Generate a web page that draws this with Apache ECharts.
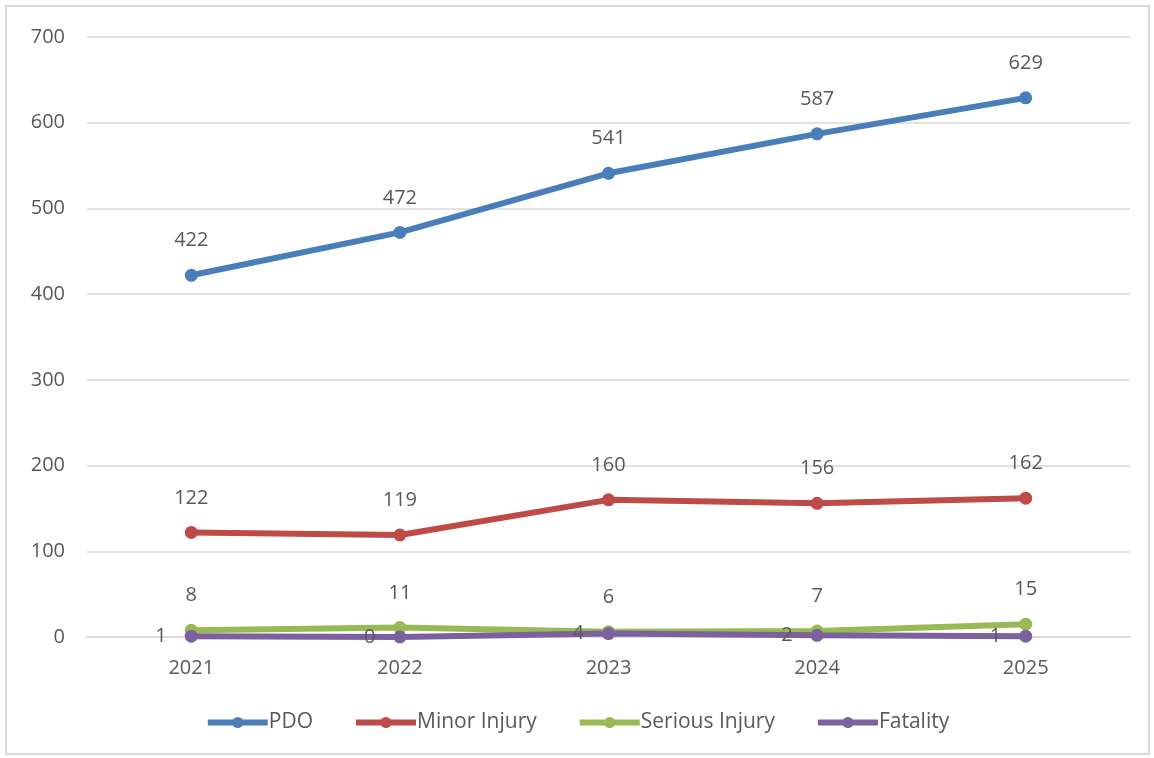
<!DOCTYPE html>
<html style="height: 100%">
<head>
<meta charset="utf-8">
<script src="https://cdn.jsdelivr.net/npm/echarts@6/dist/echarts.min.js"></script>
</head>
<body style="height: 100%; margin: 0; background: #fff">
<div id="frame" style="position:absolute; left:5px; top:5px; width:1145px; height:750px; border:2px solid #d9d9d9; box-sizing:border-box;"></div>
<div id="container" style="position:absolute; left:0; top:0; width:1154px; height:758px"></div>
<script type="text/javascript">
var years = ['2021', '2022', '2023', '2024', '2025'];
var pdo = [422, 472, 541, 587, 629];
var minorInjury = [122, 119, 160, 156, 162];
var seriousInjury = [8, 11, 6, 7, 15];
var fatality = [1, 0, 4, 2, 1];

var textColor = '#595959';
var font = '"Open Sans", "Noto Sans", sans-serif';

function makeSeries(name, data, color, labelPos) {
    return {
        name: name,
        type: 'line',
        data: data,
        symbol: 'circle',
        symbolSize: 13,
        lineStyle: { width: 6, color: color },
        itemStyle: { color: color },
        label: {
            show: true,
            position: labelPos,
            distance: 18,
            color: textColor,
            fontSize: 20,
            fontFamily: font
        }
    };
}

var myChart = echarts.init(document.getElementById('container'));
var option = {
    animation: false,
    grid: { left: 87, right: 24, top: 37, bottom: 121, containLabel: false },
    legend: {
        bottom: 20,
        left: 'center',
        itemWidth: 60,
        itemHeight: 14,
        itemGap: 40,
        lineStyle: { width: 6 },
        textStyle: { color: textColor, fontSize: 21, fontFamily: font, padding: [0, 0, 0, -4] },
        data: ['PDO', 'Minor Injury', 'Serious Injury', 'Fatality']
    },
    xAxis: {
        type: 'category',
        data: years,
        boundaryGap: true,
        axisLine: { lineStyle: { color: '#d9d9d9', width: 1.5 } },
        axisTick: { show: false },
        axisLabel: { color: textColor, fontSize: 20, fontFamily: font, margin: 21 }
    },
    yAxis: {
        type: 'value',
        min: 0,
        max: 700,
        interval: 100,
        axisLine: { show: false },
        axisTick: { show: false },
        axisLabel: { color: textColor, fontSize: 20, fontFamily: font, margin: 22 },
        splitLine: { lineStyle: { color: '#d9d9d9', width: 1.5 } }
    },
    series: [
        makeSeries('PDO', pdo, '#4a7ebb', 'top'),
        makeSeries('Minor Injury', minorInjury, '#be4b48', 'top'),
        makeSeries('Serious Injury', seriousInjury, '#98b954', 'top'),
        makeSeries('Fatality', fatality, '#7d60a0', 'left')
    ]
};
myChart.setOption(option);
</script>
</body>
</html>
